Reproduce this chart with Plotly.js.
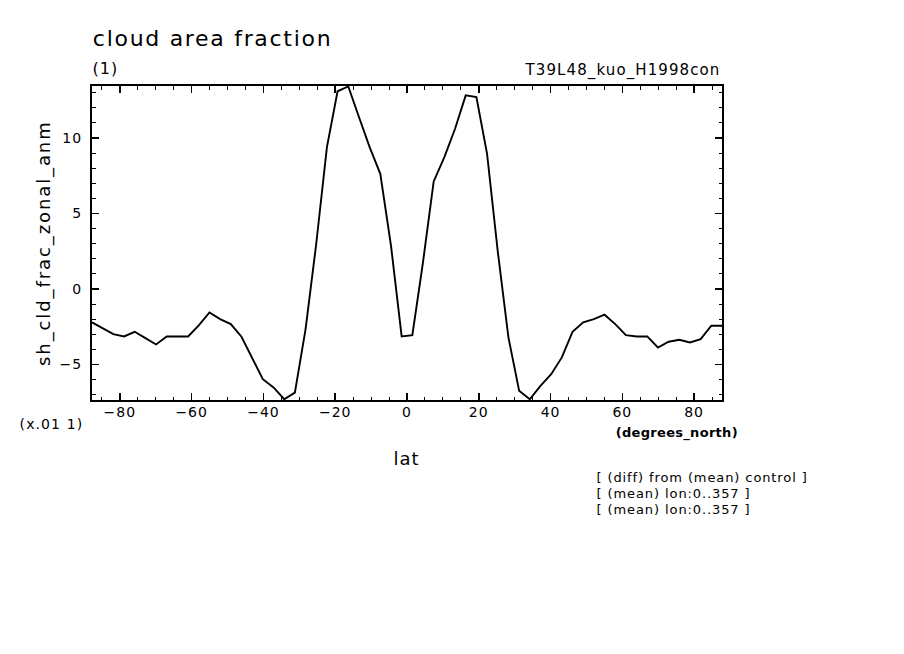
<!DOCTYPE html>
<html>
<head>
<meta charset="utf-8">
<script src="https://cdn.plot.ly/plotly-3.0.1.min.js"></script>
<style>
html,body{margin:0;padding:0;background:#fff;}
#chart{width:904px;height:654px;}
.xtick text,.ytick text{letter-spacing:1px;}
g.annotation[data-index="0"] text{letter-spacing:1.7px;}
g.annotation[data-index="1"] text{letter-spacing:1px;}
g.annotation[data-index="2"] text{letter-spacing:1.1px;}
g.annotation[data-index="3"] text{letter-spacing:1.9px;}
g.annotation[data-index="4"] text{letter-spacing:1.1px;}
g.annotation[data-index="5"] text{letter-spacing:1px;}
g.annotation[data-index="6"] text{letter-spacing:0.3px;}
g.annotation[data-index="7"] text,g.annotation[data-index="8"] text,g.annotation[data-index="9"] text{letter-spacing:0.9px;}
</style>
</head>
<body>
<div id="chart"></div>
<script>
// Gaussian latitudes (degrees_north)
const lat = [-87.77,-84.79,-81.82,-78.84,-75.87,-72.89,-69.92,-66.94,-63.97,-60.99,
             -58.02,-55.04,-52.07,-49.09,-46.12,-43.14,-40.17,-37.19,-34.21,-31.24,
             -28.26,-25.29,-22.31,-19.34,-16.36,-13.39,-10.41,-7.44,-4.46,-1.49,
             1.49,4.46,7.44,10.41,13.39,16.36,19.34,22.31,25.29,28.26,
             31.24,34.21,37.19,40.17,43.14,46.12,49.09,52.07,55.04,58.02,
             60.99,63.97,66.94,69.92,72.89,75.87,78.84,81.82,84.79,87.77];
// sh_cld_frac_zonal_anm (x.01 1)
const anm = [-2.21,-2.62,-2.99,-3.14,-2.83,-3.25,-3.67,-3.14,-3.14,-3.14,
             -2.41,-1.55,-1.99,-2.32,-3.16,-4.53,-5.97,-6.52,-7.30,-6.86,
             -2.65,3.00,9.40,13.10,13.42,11.40,9.40,7.63,2.88,-3.14,
             -3.05,1.79,7.13,8.74,10.62,12.83,12.72,8.96,2.50,-3.20,
             -6.74,-7.30,-6.41,-5.64,-4.53,-2.83,-2.21,-1.99,-1.70,-2.32,
             -3.05,-3.14,-3.14,-3.87,-3.49,-3.36,-3.54,-3.32,-2.43,-2.43];
const xTicks = [-80,-60,-40,-20,0,20,40,60,80];
const yTicks = [-5,0,5,10];

const FONT = "DejaVu Sans, Liberation Sans, sans-serif";
const L = 92, R = 722, T = 86, B = 400;
const W = R - L, H = B - T;
const px = x => (x - L) / W;
const py = y => (B - y) / H;

const trace = {
  x: lat, y: anm, type: 'scatter', mode: 'lines',
  line: {color: '#000', width: 1.9}, hoverinfo: 'skip'
};

function ann(text, x, y, opts) {
  return Object.assign({
    text: text, xref: 'paper', yref: 'paper', x: px(x), y: py(y),
    showarrow: false, xanchor: 'left', yanchor: 'middle',
    font: {family: FONT, size: 13, color: '#000'}
  }, opts || {});
}

const layout = {
  width: 904, height: 654,
  margin: {l: L, r: 904 - R, t: T, b: 654 - B, pad: 0},
  paper_bgcolor: '#fff', plot_bgcolor: '#fff',
  showlegend: false,
  font: {family: FONT, color: '#000'},
  xaxis: {
    range: [lat[0], lat[lat.length - 1]],
    tickmode: 'array', tickvals: xTicks,
    ticks: 'inside', ticklen: 7, tickwidth: 1.5, tickcolor: '#000',
    minor: {tickmode: 'linear', tick0: 0, dtick: 5, ticks: 'inside', ticklen: 3.5, tickwidth: 1, tickcolor: '#000'},
    showline: true, linewidth: 2, linecolor: '#000', mirror: 'allticks',
    showgrid: false, zeroline: false,
    tickfont: {family: FONT, size: 14, color: '#000'},
    ticklabelstandoff: -2
  },
  yaxis: {
    range: [-7.35, 13.45],
    tickmode: 'array', tickvals: yTicks,
    ticks: 'inside', ticklen: 7, tickwidth: 1.5, tickcolor: '#000',
    minor: {tickmode: 'linear', tick0: 0, dtick: 1, ticks: 'inside', ticklen: 3.5, tickwidth: 1, tickcolor: '#000'},
    showline: true, linewidth: 2, linecolor: '#000', mirror: 'allticks',
    showgrid: false, zeroline: false,
    tickfont: {family: FONT, size: 14, color: '#000'},
    ticklabelstandoff: 5
  },
  annotations: [
    ann('cloud area fraction', 107, 38, {font: {family: FONT, size: 22, color: '#000'}}),
    ann('(1)', 92, 68, {font: {family: FONT, size: 16, color: '#000'}}),
    ann('T39L48_kuo_H1998con', 712, 71, {xanchor: 'right', font: {family: FONT, size: 15, color: '#000'}}),
    ann('sh_cld_frac_zonal_anm', 44, 243, {xanchor: 'center', textangle: -90, font: {family: FONT, size: 18, color: '#000'}}),
    ann('(x.01 1)', 51, 424, {xanchor: 'center', font: {family: FONT, size: 14, color: '#000'}}),
    ann('lat', 406, 458, {xanchor: 'center', font: {family: FONT, size: 18, color: '#000'}}),
    ann('<b>(degrees_north)</b>', 677, 433, {xanchor: 'center', font: {family: FONT, size: 13, color: '#000'}}),
    ann('[ (diff) from (mean) control ]', 608, 477),
    ann('[ (mean) lon:0..357 ]', 604, 493),
    ann('[ (mean) lon:0..357 ]', 604, 509)
  ]
};

Plotly.newPlot('chart', [trace], layout, {staticPlot: true, displayModeBar: false});
</script>
</body>
</html>
